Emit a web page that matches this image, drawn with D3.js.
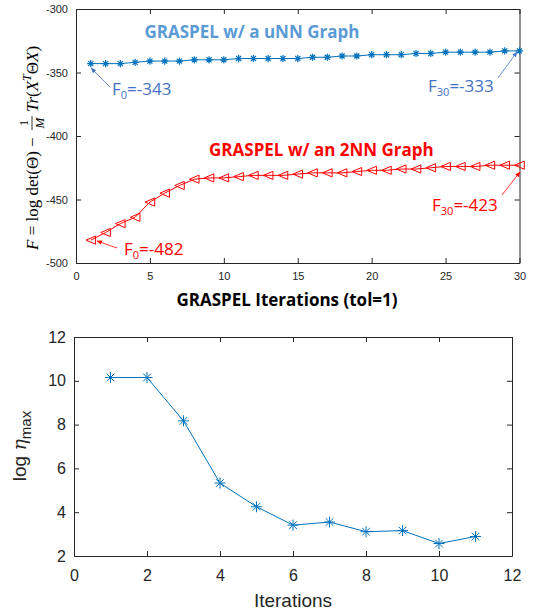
<!DOCTYPE html>
<html>
<head>
<meta charset="utf-8">
<script src="https://cdn.jsdelivr.net/npm/d3@7"></script>
<style>
  body { margin: 0; background: #fff; }
  svg { display: block; }
  .tick text { fill: #262626; font-family: "Liberation Sans", Arial, sans-serif; }
  .domain, .tick line { stroke: #262626; }
</style>
</head>
<body>
<div id="chart"></div>
<script>
// top panel: objective value per GRASPEL iteration
const iters = d3.range(1, 31);
const uNN = [-343, -343, -343, -342, -341, -341, -341, -340, -340, -340, -339, -339, -339, -339, -339,
             -338, -338, -337, -337, -336, -336, -336, -335, -335, -334, -334, -334, -334, -333, -333];
const nn2 = [-482, -476, -469, -464, -452, -445, -439, -434, -433, -433, -432, -431, -431, -431, -430,
             -429, -429, -429, -428, -427, -427, -426, -426, -425, -424, -424, -424, -423, -423, -423];
const topXTicks = [0, 5, 10, 15, 20, 25, 30];
const topYTicks = [-500, -450, -400, -350, -300];

// bottom panel: log eta_max per iteration
const etaIters = d3.range(1, 12);
const logEta = [10.15, 10.15, 8.17, 5.33, 4.25, 3.41, 3.55, 3.11, 3.16, 2.57, 2.89];
const botXTicks = [0, 2, 4, 6, 8, 10, 12];
const botYTicks = [2, 4, 6, 8, 10, 12];

const W = 535, H = 611;
const blue = "#0072BD", red = "#FF0000", noteBlue = "#4472C4", titleBlue = "#5B9BD5";
const svg = d3.select("#chart").append("svg").attr("width", W).attr("height", H);

function star(r) {
  const d = r * 0.7;
  return `M${-r},0H${r}M0,${-r}V${r}M${-d},${-d}L${d},${d}M${-d},${d}L${d},${-d}`;
}
function triLeft(r) {
  return `M${-r},0L${r},${-r * 0.85}L${r},${r * 0.85}Z`;
}

// matlab style box: ticks inside on all four sides, labels only bottom/left
function boxAxes(g, x, y, xt, yt, fs, padX, padY) {
  const [x0, x1] = x.range(), [y0, y1] = y.range();
  const fmt = d => String(d);
  g.append("g").attr("transform", `translate(0,${y0})`)
    .call(d3.axisBottom(x).tickValues(xt).tickFormat(fmt).tickSizeInner(-5).tickSizeOuter(0).tickPadding(padX))
    .selectAll("text").style("font-size", fs + "px");
  g.append("g").attr("transform", `translate(0,${y1})`)
    .call(d3.axisTop(x).tickValues(xt).tickSizeInner(-5).tickSizeOuter(0).tickFormat(""));
  g.append("g").attr("transform", `translate(${x0},0)`)
    .call(d3.axisLeft(y).tickValues(yt).tickFormat(fmt).tickSizeInner(-5).tickSizeOuter(0).tickPadding(padY))
    .selectAll("text").style("font-size", fs + "px");
  g.append("g").attr("transform", `translate(${x1},0)`)
    .call(d3.axisRight(y).tickValues(yt).tickSizeInner(-5).tickSizeOuter(0).tickFormat(""));
}

// ---------- top panel ----------
const xT = d3.scaleLinear().domain([0, 30]).range([76, 519.5]);
const yT = d3.scaleLinear().domain([-500, -300]).range([263, 9]);
const gT = svg.append("g");
boxAxes(gT, xT, yT, topXTicks, topYTicks, 11, 9, 8);

const lineT = (vals) => d3.line().x((d, i) => xT(iters[i])).y(d => yT(d))(vals);
gT.append("path").attr("d", lineT(uNN)).attr("fill", "none").attr("stroke", blue).attr("stroke-width", 1);
gT.append("path").attr("d", lineT(nn2)).attr("fill", "none").attr("stroke", red).attr("stroke-width", 1);

gT.selectAll(".mu").data(uNN).enter().append("path")
  .attr("transform", (d, i) => `translate(${xT(iters[i])},${yT(d)})`)
  .attr("d", star(3.6)).attr("stroke", blue).attr("stroke-width", 1.2).attr("fill", "none");
gT.selectAll(".mr").data(nn2).enter().append("path")
  .attr("transform", (d, i) => `translate(${xT(iters[i])},${yT(d)})`)
  .attr("d", triLeft(4.8)).attr("stroke", red).attr("stroke-width", 1).attr("fill", "none");

// series titles
gT.append("text").attr("x", xT(11.9)).attr("y", yT(-322.8)).attr("text-anchor", "middle")
  .style("font-family", "'Open Sans', sans-serif").style("font-weight", "bold").style("font-size", "17px")
  .attr("fill", titleBlue).text("GRASPEL w/ a uNN Graph");
gT.append("text").attr("x", xT(16.6)).attr("y", yT(-415.5)).attr("text-anchor", "middle")
  .style("font-family", "'Open Sans', sans-serif").style("font-weight", "bold").style("font-size", "17px")
  .attr("fill", red).text("GRASPEL w/ an 2NN Graph");

// arrow annotations
const defs = svg.append("defs");
[["ab", noteBlue], ["ar", red]].forEach(([id, c]) => {
  defs.append("marker").attr("id", id).attr("viewBox", "0 0 10 10").attr("refX", 9).attr("refY", 5)
    .attr("markerWidth", 7).attr("markerHeight", 7).attr("orient", "auto-start-reverse")
    .append("path").attr("d", "M0,1L10,5L0,9Z").attr("fill", c);
});
const notes = [
  { sub: "0", val: "-343", c: noteBlue, m: "ab", tx: 112, ty: 95, a: [110, 87, 91, 68] },
  { sub: "30", val: "-333", c: noteBlue, m: "ab", tx: 428, ty: 92, a: [498, 78, 517, 52] },
  { sub: "0", val: "-482", c: red, m: "ar", tx: 124, ty: 255, a: [117, 248, 97, 241] },
  { sub: "30", val: "-423", c: red, m: "ar", tx: 432, ty: 211, a: [502, 195, 520, 172] }
];
notes.forEach(n => {
  gT.append("line").attr("x1", n.a[0]).attr("y1", n.a[1]).attr("x2", n.a[2]).attr("y2", n.a[3])
    .attr("stroke", n.c).attr("stroke-width", 0.8).attr("marker-end", `url(#${n.m})`);
  const t = gT.append("text").attr("x", n.tx).attr("y", n.ty)
    .style("font-family", "'Open Sans', sans-serif").style("font-size", "17px").attr("fill", n.c);
  t.append("tspan").text("F");
  t.append("tspan").attr("dy", 4).style("font-size", "11px").text(n.sub);
  t.append("tspan").attr("dy", -4).text("=" + n.val);
});

// axis labels
gT.append("text").attr("x", 287).attr("y", 306).attr("text-anchor", "middle")
  .style("font-family", "'Open Sans', sans-serif").style("font-weight", "bold").style("font-size", "17px")
  .attr("fill", "#000").text("GRASPEL Iterations (tol=1)");

// LaTeX style y label, rotated
const yl = gT.append("g").attr("transform", "translate(38,250) rotate(-90)")
  .style("font-family", "'Liberation Serif', 'DejaVu Serif', serif").style("font-size", "17px").attr("fill", "#000");
const t1 = yl.append("text").attr("x", 0).attr("y", 0).attr("xml:space", "preserve");
t1.append("tspan").style("font-style", "italic").text("F");
t1.append("tspan").text(" = log det(Θ) − ");
const fx = t1.node().getComputedTextLength() + 3;
yl.append("text").attr("x", fx + 7).attr("y", -10).attr("text-anchor", "middle").style("font-size", "13px").text("1");
yl.append("line").attr("x1", fx).attr("x2", fx + 14).attr("y1", -6).attr("y2", -6).attr("stroke", "#000").attr("stroke-width", 0.8);
yl.append("text").attr("x", fx + 7).attr("y", 6).attr("text-anchor", "middle").style("font-size", "13px")
  .style("font-style", "italic").text("M");
const t2 = yl.append("text").attr("x", fx + 18).attr("y", 0);
t2.append("tspan").style("font-style", "italic").text("Tr");
t2.append("tspan").text("(");
t2.append("tspan").style("font-style", "italic").text("X");
t2.append("tspan").attr("dy", -7).style("font-size", "12px").style("font-style", "italic").text("T");
t2.append("tspan").attr("dy", 7).text("Θ");
t2.append("tspan").style("font-style", "italic").text("X");
t2.append("tspan").text(")");

// ---------- bottom panel ----------
const xB = d3.scaleLinear().domain([0, 12]).range([74, 512]);
const yB = d3.scaleLinear().domain([2, 12]).range([556, 337]);
const gB = svg.append("g");
boxAxes(gB, xB, yB, botXTicks, botYTicks, 16, 14, 8);

gB.append("path").attr("d", d3.line().x((d, i) => xB(etaIters[i])).y(d => yB(d))(logEta))
  .attr("fill", "none").attr("stroke", blue).attr("stroke-width", 1);
gB.selectAll(".me").data(logEta).enter().append("path")
  .attr("transform", (d, i) => `translate(${xB(etaIters[i])},${yB(d)})`)
  .attr("d", star(5.5)).attr("stroke", blue).attr("stroke-width", 1).attr("fill", "none");

gB.append("text").attr("x", 293).attr("y", 607).attr("text-anchor", "middle")
  .style("font-family", "'Liberation Sans', Arial, sans-serif").style("font-size", "19px")
  .attr("fill", "#262626").text("Iterations");
const el = gB.append("text").attr("transform", "translate(26,446) rotate(-90)").attr("text-anchor", "middle")
  .style("font-family", "'Liberation Sans', Arial, sans-serif").style("font-size", "19px").attr("fill", "#262626");
el.append("tspan").text("log ");
el.append("tspan").style("font-family", "'DejaVu Serif', serif").style("font-style", "italic").text("η");
el.append("tspan").attr("dy", 5).style("font-size", "15px").text("max");
</script>
</body>
</html>
